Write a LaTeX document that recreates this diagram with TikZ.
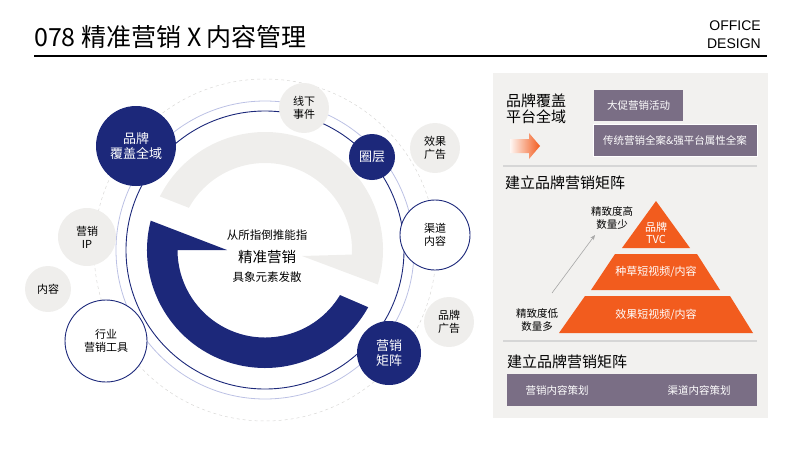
\documentclass[tikz,border=0pt]{standalone}
\usepackage{fontspec}
\setmainfont{Noto Sans CJK SC}
\newfontfamily\latinfont{Liberation Sans}
\usetikzlibrary{calc, arrows.meta, positioning}

\definecolor{mnavy}{RGB}{28,40,122}
\definecolor{mlav}{RGB}{188,193,228}
\definecolor{mgray}{RGB}{239,238,236}
\definecolor{mpanel}{RGB}{242,241,239}
\definecolor{mpurp}{RGB}{122,110,133}
\definecolor{morg}{RGB}{242,92,30}
\definecolor{msep}{RGB}{214,214,214}

\begin{document}
\begin{tikzpicture}[
    x=1pt, y=-1pt,
    sat/.style={circle, inner sep=0pt, align=center, font=\fontsize{11}{13}\selectfont},
    navysat/.style={sat, fill=mnavy, text=white, font=\fontsize{13}{15}\selectfont},
    graysat/.style={sat, fill=mgray, text=black},
    linesat/.style={sat, draw=mnavy, line width=0.9pt, fill=white, text=black},
    tagbox/.style={fill=mpurp, text=white, inner sep=0pt, font=\fontsize{10.5}{12}\selectfont},
    head/.style={anchor=west, inner sep=0pt, align=left, font=\fontsize{15}{16}\selectfont},
    pyrtext/.style={text=white, align=center, inner sep=0pt, font=\fontsize{11}{12}\selectfont},
    note/.style={align=center, inner sep=0pt, font=\fontsize{10.5}{13}\selectfont}
]
\useasboundingbox (0,0) rectangle (800,450);

% title
\node[anchor=west, inner sep=0pt, font=\fontsize{25}{28}\selectfont] (title) at (34,37) {078 精准营销 X 内容管理};
\node[anchor=east, align=right, inner sep=0pt, font=\latinfont\fontsize{14}{18}\selectfont] (brand) at (761,35) {OFFICE\\DESIGN};
\draw[line width=1.4pt] (34,56) -- (767,56);

% rings
\coordinate (c) at (265,250);
\draw[mgray!80!gray, dashed, line width=0.5pt] (c) circle[radius=171];
\draw[mlav, line width=0.8pt] (c) circle[radius=149];
\draw[mnavy, line width=0.9pt] (c) circle[radius=139];

% gray and blue arcs
\fill[mgray] (c) ++(207:118) arc[start angle=207, end angle=377, radius=118]
    -- ($(c)+(37,6)$) -- ($(c)+(363:87)$) arc[start angle=363, end angle=209, radius=87] -- cycle;
\fill[mnavy] (c) ++(194.4:118) arc[start angle=194.4, end angle=29, radius=118]
    -- ($(c)+(31:87.5)$) arc[start angle=31, end angle=180, radius=87.5] -- ($(c)+(-38,0)$) -- cycle;

% centre text
\node[inner sep=0pt, font=\fontsize{11.5}{13}\selectfont] (core_top) at (267,235) {从所指倒推能指};
\node[inner sep=0pt, font=\fontsize{14.5}{16}\selectfont] (core_mid) at (267,257) {精准营销};
\node[inner sep=0pt, font=\fontsize{11.5}{13}\selectfont] (core_bot) at (267,277) {具象元素发散};

% satellites
\node[navysat, minimum size=80] (brand_cover) at (136,146) {品牌\\覆盖全域};
\node[graysat, minimum size=50] (offline) at (304,108) {线下\\事件};
\node[navysat, minimum size=46] (layer) at (372,157) {圈层};
\node[graysat, minimum size=50] (effect_ad) at (435,148) {效果\\广告};
\node[linesat, minimum size=70] (channel) at (435,235) {渠道\\内容};
\node[graysat, minimum size=50] (brand_ad) at (449,322) {品牌\\广告};
\node[navysat, minimum size=64] (matrix) at (389,353) {营销\\矩阵};
\node[linesat, minimum size=82] (industry) at (106,341) {行业\\营销工具};
\node[graysat, minimum size=46] (content) at (48,289) {内容};
\node[graysat, minimum size=58] (ip) at (87,237) {营销\\IP};

% right panel
\fill[mpanel] (493,73) rectangle (768,418);
\node[head] (cover_head) at (506,109) {品牌覆盖\\平台全域};
\shade[left color=morg!5, right color=morg] (510,139) -- (529,139) -- (529,133) -- (540,146)
    -- (529,159) -- (529,153) -- (510,153) -- cycle;
\node[tagbox, minimum width=89, minimum height=31] (promo) at (638.5,105.5) {大促营销活动};
\node[tagbox, draw=white, line width=0.6pt, minimum width=164, minimum height=32] (classic) at (675,140) {传统营销全案\&强平台属性全案};
\draw[msep, line width=1.5pt] (503,166) -- (757,166);

\node[head] (matrix_head) at (505,183) {建立品牌营销矩阵};
\fill[morg] (656,201) -- (690,248) -- (622,248) -- cycle;
\fill[morg] (615,254) -- (697,254) -- (720,290) -- (591,290) -- cycle;
\fill[morg] (585,296) -- (730,296) -- (753,333) -- (559,333) -- cycle;
\node[pyrtext] (tvc) at (656,233) {品牌\\TVC};
\node[pyrtext] (seed) at (656,272) {种草短视频/内容};
\node[pyrtext] (effect) at (656,315) {效果短视频/内容};
\node[note] (hi_note) at (612,218) {精致度高\\数量少};
\node[note] (lo_note) at (537,320) {精致度低\\数量多};
\coordinate (arr_from) at (552,293);
\coordinate (arr_to) at (595,235);
\draw[gray!70, line width=0.6pt, -{Stealth[length=5pt, width=4pt]}] (arr_from) -- (arr_to);
\draw[msep, line width=1.5pt] (503,341) -- (757,341);

\node[head] (plan_head) at (507,362) {建立品牌营销矩阵};
\node[tagbox, minimum width=250, minimum height=32] (plan_bar) at (632,390) {};
\node[text=white, inner sep=0pt, font=\fontsize{10.5}{12}\selectfont] (plan_left) at (557,390) {营销内容策划};
\node[text=white, inner sep=0pt, font=\fontsize{10.5}{12}\selectfont] (plan_right) at (699,390) {渠道内容策划};
\end{tikzpicture}
\end{document}
